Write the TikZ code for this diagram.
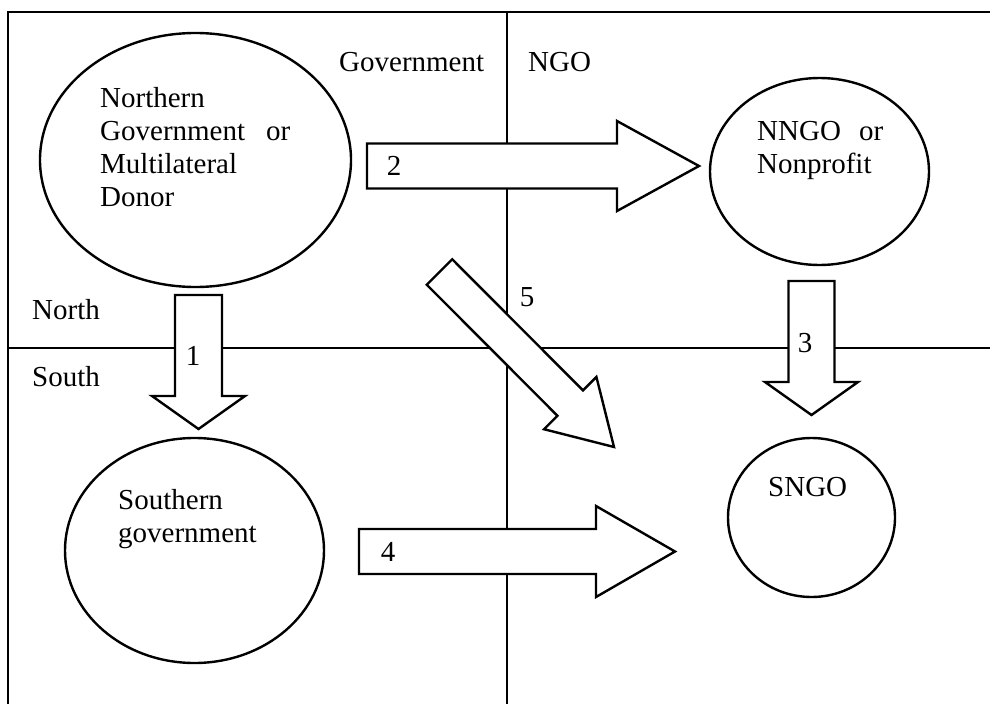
\documentclass[tikz,border=0pt]{standalone}
\usepackage{fontspec}
\setmainfont{Liberation Serif}
\usetikzlibrary{shapes.geometric}
\usetikzlibrary{calc}

\tikzset{
  actor/.style={draw, ellipse, line width=2.4pt, inner sep=0pt},
  lbl/.style={font=\fontsize{29}{33}\selectfont, inner sep=0pt},
  blk/.style={draw, fill=white, line width=2.4pt, line join=miter},
}

% block arrow: tail, tip, half shaft, half head, head length
\newcommand{\blockarrow}[5]{%
  \coordinate (#1h) at ($(#2)!#5pt!(#1)$);
  \draw[blk] ($(#1)!#3pt!90:(#2)$) -- ($(#1h)!#3pt!90:(#2)$)
    -- ($(#1h)!#4pt!90:(#2)$) -- (#2) -- ($(#1h)!#4pt!-90:(#2)$)
    -- ($(#1h)!#3pt!-90:(#2)$) -- ($(#1)!#3pt!-90:(#2)$) -- cycle;
}

\begin{document}
\begin{tikzpicture}[x=1pt, y=-1pt]
    \useasboundingbox (0,0) rectangle (990,704);
    % quadrants
    \draw[line width=2pt] (990,12) -- (8,12) -- (8,704);
    \draw[line width=2pt] (8,348) -- (990,348);
    \draw[line width=2pt] (507,12) -- (507,704);
    \node[lbl, anchor=base west] (gov) at (339,71) {Government};
    \node[lbl, anchor=base west] (ngo) at (528,71) {NGO};
    \node[lbl, anchor=base west] (north) at (32,319) {North};
    \node[lbl, anchor=base west] (south) at (32,386) {South};

    % actors
    \node[actor, minimum width=311pt, minimum height=254pt] (ngd) at (195.5,160) {};
    \node[actor, minimum width=219pt, minimum height=187pt] (nngo) at (819.5,171.5) {};
    \node[actor, minimum width=259pt, minimum height=225pt] (sgov) at (194.5,550.5) {};
    \node[actor, minimum width=167pt, minimum height=159pt] (sngo) at (811.5,517.5) {};
    \node[lbl, anchor=north west, text width=190pt, align=left] (ngdt) at (100,87)
        {Northern\\ Government\hfill or\\ Multilateral\\ Donor};
    \node[lbl, anchor=north west, text width=126pt, align=left] (nngot) at (757,121)
        {NNGO\hfill or\\ Nonprofit};
    \node[lbl, anchor=north west, align=left] (sgovt) at (118,489)
        {Southern\\ government};
    \node[lbl, anchor=north west] (sngot) at (768,477) {SNGO};

    % flows
    \coordinate (a1s) at (198.5,295);  \coordinate (a1e) at (198.5,429);
    \coordinate (a2s) at (367,166);    \coordinate (a2e) at (699,166);
    \coordinate (a3s) at (811.5,281);  \coordinate (a3e) at (811.5,415);
    \coordinate (a4s) at (359,551.5);  \coordinate (a4e) at (675,551.5);
    \coordinate (a5s) at (439.5,272);  \coordinate (a5e) at (614,447);
    \blockarrow{a1s}{a1e}{23.5}{46.5}{33}
    \blockarrow{a2s}{a2e}{22.5}{45}{82}
    \blockarrow{a3s}{a3e}{23}{46.5}{33}
    \blockarrow{a4s}{a4e}{22.5}{45.5}{79}
    \blockarrow{a5s}{a5e}{18}{37}{62}
    \node[lbl, anchor=base] (l1) at (193,365) {1};
    \node[lbl, anchor=base] (l2) at (394,175) {2};
    \node[lbl, anchor=base] (l3) at (805,352) {3};
    \node[lbl, anchor=base] (l4) at (388,561) {4};
    \node[lbl, anchor=base] (l5) at (527,306) {5};
\end{tikzpicture}
\end{document}
